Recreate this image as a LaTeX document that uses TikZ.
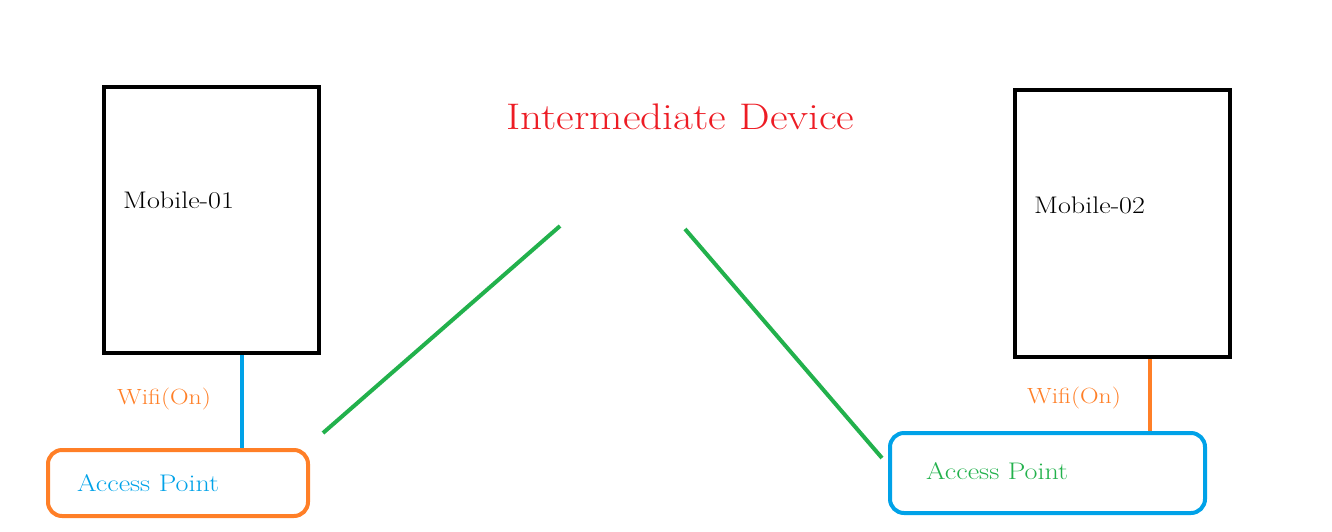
\documentclass[tikz,border=0pt]{standalone}
\usepackage{fontspec}
\setmainfont{Latin Modern Roman}[FakeStretch=1.17]
\usetikzlibrary{positioning}
\definecolor{paintorange}{RGB}{255,127,39}
\definecolor{paintblue}{RGB}{0,162,232}
\definecolor{paintgreen}{RGB}{34,177,76}
\definecolor{paintred}{RGB}{237,28,36}
\begin{document}
\begin{tikzpicture}[x=1pt,y=-1pt,
    mobile/.style={draw=black,line width=4pt,minimum width=215pt,inner sep=0pt},
    apbox/.style={line width=4pt,rounded corners=14pt,inner sep=0pt},
    wire/.style={line width=4pt},
    lbl/.style={inner sep=0pt,anchor=base west,font=\fontsize{24}{28}\selectfont}]
    \useasboundingbox (0,0) rectangle (1332,531);
    % the two phones
    \node[mobile,minimum height=266pt] (mob1) at (211.5,220) {};
    \node[mobile,minimum height=267pt] (mob2) at (1122.5,223.5) {};
    \node[lbl] (mob1txt) at (123,208) {Mobile-01};
    \node[lbl] (mob2txt) at (1034,213) {Mobile-02};
    % access points
    \node[apbox,draw=paintorange,minimum width=260pt,minimum height=66pt] (ap1) at (178,483) {};
    \node[apbox,draw=paintblue,minimum width=315pt,minimum height=80pt] (ap2) at (1047.5,473) {};
    \node[lbl,text=paintblue] (ap1txt) at (77,491) {Access Point};
    \node[lbl,text=paintgreen] (ap2txt) at (926,479) {Access Point};
    % wifi links
    \draw[wire,paintblue] ([xshift=30.5pt]mob1.south) -- ([xshift=30.5pt]mob1.south |- ap1.north);
    \draw[wire,paintorange] ([xshift=27.5pt]mob2.south) -- ([xshift=27.5pt]mob2.south |- ap2.north);
    \node[lbl,text=paintorange,font=\fontsize{22}{26}\selectfont] (wifi1) at (117,404) {Wifi(On)};
    \node[lbl,text=paintorange,font=\fontsize{22}{26}\selectfont] (wifi2) at (1027,403) {Wifi(On)};
    % intermediate device
    \node[lbl,text=paintred,font=\fontsize{37}{42}\selectfont] (mid) at (506,129) {Intermediate Device};
    \coordinate (g1a) at (560,226);
    \coordinate (g1b) at (323,433);
    \coordinate (g2a) at (685,229);
    \coordinate (g2b) at (882,458);
    \draw[wire,paintgreen] (g1a) -- (g1b);
    \draw[wire,paintgreen] (g2a) -- (g2b);
\end{tikzpicture}
\end{document}
